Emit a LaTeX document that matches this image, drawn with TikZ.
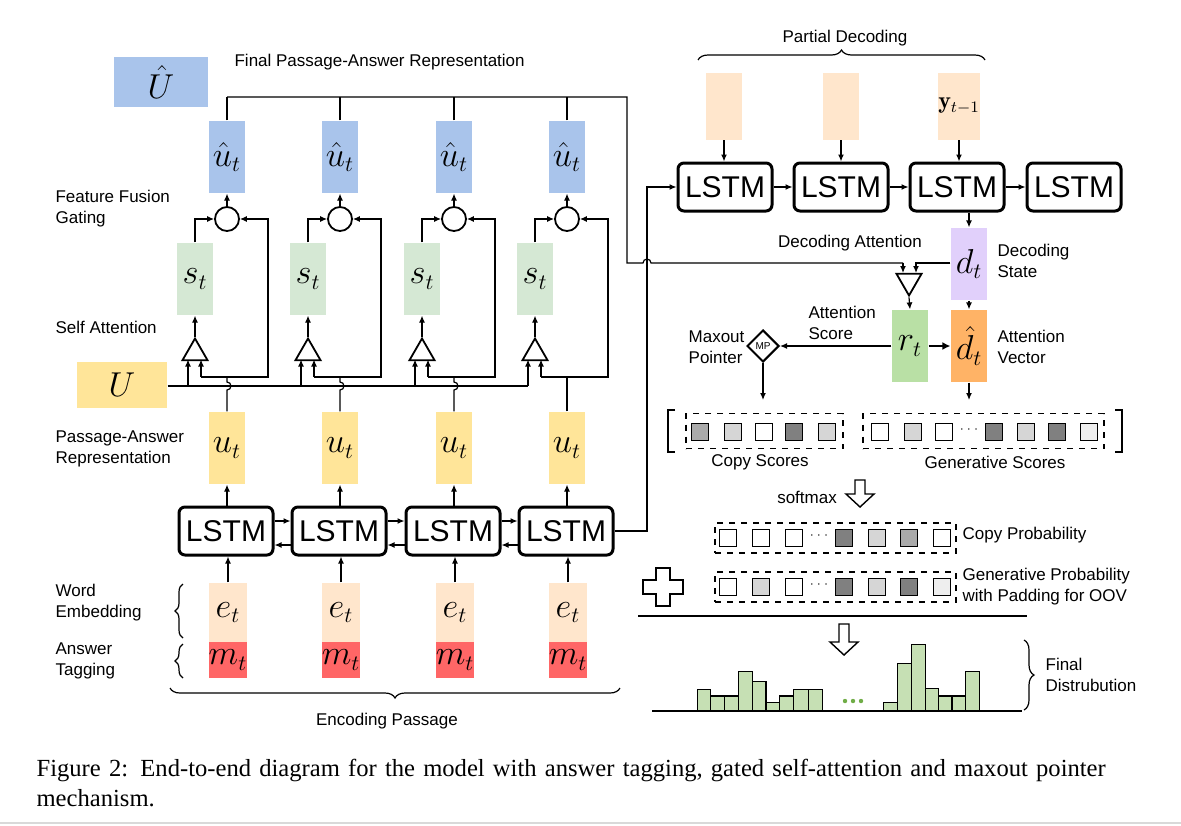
\documentclass[tikz,border=0pt]{standalone}
\usepackage{fontspec}
\setsansfont{Liberation Sans}
\newfontfamily\capfont{Liberation Serif}
\usetikzlibrary{shapes.geometric,arrows.meta,decorations.pathreplacing}
\definecolor{cBlue}{HTML}{A9C4EB}
\definecolor{cGreen}{HTML}{D5E8D4}
\definecolor{cYel}{HTML}{FFE599}
\definecolor{cPeach}{HTML}{FFE6CC}
\definecolor{cRed}{HTML}{FF6666}
\definecolor{cPurp}{HTML}{E1D0FB}
\definecolor{cRt}{HTML}{B9E0A5}
\definecolor{cOr}{HTML}{FFB366}
\definecolor{cBar}{HTML}{C6E0B4}
\definecolor{cDots}{HTML}{70AD47}
\definecolor{gL}{HTML}{D6D6D6}
\definecolor{gM}{HTML}{AAAAAA}
\definecolor{gD}{HTML}{808080}
\definecolor{gV}{HTML}{EEEEEE}
\begin{document}
\begin{tikzpicture}[x=0.5pt,y=-0.5pt,line width=0.6pt,
  lab/.style={font=\sffamily\fontsize{8.5}{10.5}\selectfont,align=left,inner sep=0},
  vec/.style={minimum width=18pt,minimum height=36pt,inner sep=0,font=\fontsize{16}{16}\selectfont},
  lstm/.style={draw,line width=1.5pt,rounded corners=3pt,minimum width=47pt,minimum height=24pt,inner sep=0,font=\sffamily\fontsize{15}{15}\selectfont},
  ar/.style={-{Latex[length=3.5pt,width=3pt]}},
  sq/.style={draw,minimum size=8.5pt,inner sep=0},
  tri/.style={draw,regular polygon,regular polygon sides=3,minimum size=14.5pt,inner sep=0,line width=0.9pt},
  hollow/.style={draw,fill=white,line width=0.7pt}]
\useasboundingbox (0,0) rectangle (1181,825);
% ---------- encoder ----------
\node[fill=cBlue,minimum width=47pt,minimum height=25pt,font=\fontsize{16}{16}\selectfont] (Uh) at (161,82) {$\hat U$};
\node[lab,anchor=west] (tFinal) at (234,62) {Final Passage-Answer Representation};
\node[fill=cYel,minimum width=45pt,minimum height=23pt,font=\fontsize{16}{16}\selectfont] (U) at (122,385) {$U$};
\node[lab,anchor=west] (tFF) at (55,209) {Feature Fusion\\Gating};
\node[lab,anchor=west] (tSA) at (55,327) {Self Attention};
\node[lab,anchor=west] (tPA) at (55,449) {Passage-Answer\\Representation};
\node[lab,anchor=west] (tWE) at (55,603) {Word\\Embedding};
\node[lab,anchor=west] (tAT) at (55,661) {Answer\\Tagging};
\draw[decorate,decoration={brace,amplitude=4pt}] (183,638) -- (183,584);
\draw[decorate,decoration={brace,amplitude=4pt}] (183,678) -- (183,644);
\draw[decorate,decoration={brace,amplitude=5pt,mirror}] (170,688) -- (620,688);
\node[lab] (tEP) at (387,721) {Encoding Passage};
\foreach \i/\cx in {1/227,2/340,3/454,4/567}{
  \node[vec,fill=cBlue] (uh\i) at (\cx,157) {$\hat u_t$};
  \node[draw,circle,minimum size=12pt,inner sep=0,line width=0.9pt] (g\i) at (\cx,219) {};
  \node[vec,fill=cGreen] (s\i) at (\cx-32,279) {$s_t$};
  \node[tri] (a\i) at (\cx-32,353) {};
  \node[vec,fill=cYel] (u\i) at (\cx,448) {$u_t$};
  \node[lstm] (L\i) at (\cx-1,531) {LSTM};
  \node[vec,fill=cPeach,minimum width=19pt,minimum height=29.5pt] (e\i) at (\cx+1,612.5) {$e_t$};
  \node[vec,fill=cRed,minimum width=19pt,minimum height=18pt] (m\i) at (\cx+1,660) {$m_t$};
  \draw[ar] (e\i.north) -- (e\i.north |- L\i.south);
  \draw[ar] (L\i.north -| u\i) -- (u\i.south);
  \draw[ar] (a\i.north) -- (s\i.south);
  \draw[ar] (s\i.north) |- (g\i.west);
  \draw[ar] (g\i.north) -- (uh\i.south);
  \draw (uh\i.north) -- (\cx,97);
  \draw[ar] (\cx-26,377) -- (\cx-26,359.5);
  \draw[ar] (\cx-39,386) -- (\cx-39,359.5);
  \draw[ar] (\cx-26,377) -- (\cx+41,377) -- (\cx+41,219) -- (g\i.east);
}
\foreach \i/\cx in {1/227,2/340,3/454}{
  \draw (u\i.north) -- (\cx,390) arc[start angle=90,end angle=-90,radius=4] -- (\cx,377);
}
\draw (u4.north) -- (567,377);
\draw (U.east |- 0,386) -- (528,386);
\foreach \a/\b in {1/2,2/3,3/4}{
  \draw[ar] ([yshift=5pt]L\a.east) -- ([yshift=5pt]L\b.west);
  \draw[ar] ([yshift=-7pt]L\b.west) -- ([yshift=-7pt]L\a.east);
}
% ---------- decoder ----------
\node[lab] (tPD) at (845,38) {Partial Decoding};
\draw[decorate,decoration={brace,amplitude=5pt}] (698,60) -- (985,60);
\foreach \i/\cx in {1/725,2/841,3/957,4/1074}{
  \node[lstm] (D\i) at (\cx,187) {LSTM};
}
\node[vec,fill=cPeach,minimum height=33.5pt] (P1) at (724,106) {};
\node[vec,fill=cPeach,minimum height=33.5pt] (P2) at (841,106) {};
\node[vec,fill=cPeach,minimum height=33.5pt,font=\fontsize{12}{12}\selectfont] (P3) at (959,106) {$\mathbf{y}_{t-1}$};
\foreach \i in {1,2,3}{\draw[ar] (P\i.south) -- (P\i.south |- D\i.north);}
\foreach \a/\b in {1/2,2/3,3/4}{\draw[ar] (D\a.east) -- (D\b.west);}
\draw (uh1.north |- 0,97) -- (627,97) -- (627,263) -- (643,263) arc[start angle=180,end angle=360,radius=4] -- (903,263);
\draw[ar] (L4.east) -- (647,531) -- (647,187) -- (D1.west);
\node[vec,fill=cPurp] (dt) at (969,264) {$d_t$};
\node[lab,anchor=west] (tDS) at (997,261) {Decoding\\State};
\draw[ar] (D3.south -| dt) -- (dt.north);
\node[tri,rotate=180] (ta) at (909,281) {};
\node[lab] (tDA) at (850,243) {Decoding Attention};
\draw[ar] (903,263) -- (903,273);
\draw[ar] (dt.west |- 0,263) -- (916,263) -- (916,273);
\node[vec,fill=cRt] (rt) at (910,346) {$r_t$};
\node[vec,fill=cOr] (dh) at (969,346) {$\hat d_t$};
\draw[ar] (ta.corner 1) -- (rt.north);
\draw[ar] (dt.south) -- (dh.north);
\draw[-{Latex[length=4pt,width=4pt]},line width=1.2pt] (rt.east) -- (dh.west);
\node[draw,diamond,minimum size=16pt,inner sep=0,line width=1pt,font=\sffamily\fontsize{5}{5}\selectfont] (mp) at (763,346) {MP};
\draw[ar] (rt.west) -- (mp.east);
\node[lab,anchor=east] (tMP) at (745,347) {Maxout\\Pointer};
\node[lab,anchor=west] (tAS) at (808,323) {Attention\\Score};
\node[lab,anchor=west] (tAV) at (997,347) {Attention\\Vector};
\coordinate (cs0) at (763,400);
\coordinate (gs0) at (969,400);
\draw[ar] (mp.south) -- (cs0);
\draw[ar] (dh.south) -- (gs0);
% scores
\draw (675,410) -- (668,410) -- (668,452) -- (675,452);
\draw (1115,410) -- (1122,410) -- (1122,452) -- (1115,452);
\node[draw,dashed,minimum width=78.5pt,minimum height=17.5pt,inner sep=0] (cs) at (764.5,431) {};
\node[draw,dashed,minimum width=120.5pt,minimum height=17.5pt,inner sep=0] (gs) at (983.5,431) {};
\foreach \x/\c in {700/gM,733/gL,764/white,794/gD,827/gL}{\node[sq,fill=\c] at (\x,432) {};}
\foreach \x/\c in {880/white,913/gL,944/white,994/gD,1026/gL,1057/gD,1089/gV}{\node[sq,fill=\c] at (\x,432) {};}
\node[font=\fontsize{6}{6}\selectfont] at (969,430) {$\cdots$};
\node[lab] (tCS) at (760,462) {Copy Scores};
\node[lab] (tGS) at (995,462) {Generative Scores};
% softmax
\node[lab] (tSM) at (807,497) {softmax};
\draw[hollow] (855,480) -- (865,480) -- (865,494) -- (874,494) -- (860,507) -- (846,494) -- (855,494) -- cycle;
\node[draw,dashed,minimum width=120.5pt,minimum height=15pt,inner sep=0] (cp) at (835.5,538) {};
\node[draw,dashed,minimum width=120.5pt,minimum height=15pt,inner sep=0] (gp) at (835.5,587) {};
\foreach \x/\c in {728/white,761/white,794/white,844/gD,877/gL,909/gM,942/white}{\node[sq,fill=\c] at (\x,538) {};}
\foreach \x/\c in {728/white,761/gL,794/white,844/gD,877/gL,909/gD,942/gV}{\node[sq,fill=\c] at (\x,587) {};}
\node[font=\fontsize{6}{6}\selectfont] at (819,536) {$\cdots$};
\node[font=\fontsize{6}{6}\selectfont] at (819,585) {$\cdots$};
\node[lab,anchor=west] (tCP) at (962,535) {Copy Probability};
\node[lab,anchor=west] (tGP) at (962,587) {Generative Probability\\with Padding for OOV};
\draw[hollow] (656,568) -- (670,568) -- (670,580) -- (683,580) -- (683,594) -- (670,594) -- (670,606) -- (656,606) -- (656,594) -- (643,594) -- (643,580) -- (656,580) -- cycle;
\draw (638,616) -- (1027,616);
\draw[hollow] (839,624) -- (849,624) -- (849,642) -- (858,642) -- (844,655) -- (830,642) -- (839,642) -- cycle;
% final distribution
\foreach \l/\r/\t in {172/212/628,212/254/648,254/296/648,296/338/575,338/378/605,378/418/668,418/460/648,460/505/628,505/548/628,730/772/668,772/814/550,814/856/493,856/896/626,896/936/648,936/976/648,976/1018/575}{
  \draw[fill=cBar,line width=0.7pt] (640+\l/3,711) rectangle (640+\r/3,480+\t/3);
}
\foreach \x in {845,853,861}{\fill[cDots] (\x,701) circle (1.1pt);}
\draw (652,711) -- (1022,711);
\draw[decorate,decoration={brace,amplitude=5pt}] (1024,640) -- (1024,710);
\node[lab,anchor=west] (tFD) at (1045,675) {Final\\Distrubution};
% caption
\node[anchor=north west,inner sep=0,text width=565pt,font=\capfont\fontsize{12.3}{15}\selectfont,align=left] (cap) at (36,759) {Figure 2: End-to-end diagram for the model with answer tagging, gated self-attention and maxout pointer mechanism.};
\draw[black!15] (0,823) -- (1181,823);
\end{tikzpicture}
\end{document}
